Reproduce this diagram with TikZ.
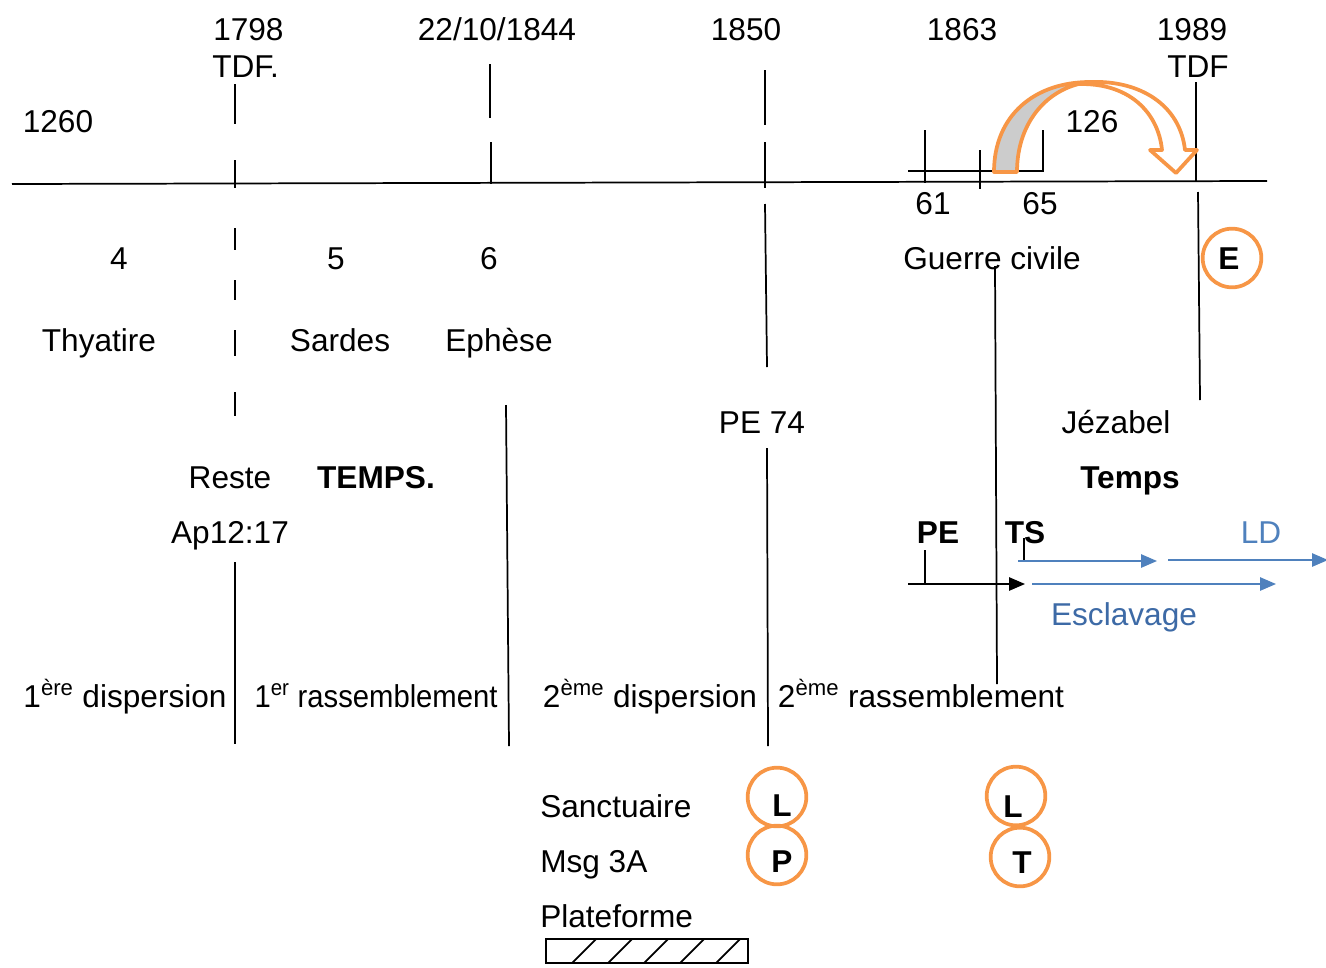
\documentclass[tikz,border=0pt]{standalone}
\usepackage{fontspec}
\setmainfont{Liberation Sans}
\usetikzlibrary{arrows.meta}
\definecolor{orng}{HTML}{F79646}
\definecolor{blu}{HTML}{4F81BD}
\definecolor{blutxt}{HTML}{3D6AA6}
\begin{document}
\begin{tikzpicture}[x=0.75pt,y=-0.75pt,
  txt/.style={font=\fontsize{23.7}{28}\selectfont, inner sep=0pt, text height=17pt, text depth=0pt, anchor=center},
  btxt/.style={txt, font=\fontsize{23.7}{28}\selectfont\bfseries},
  ln/.style={line width=1.3pt},
  ocirc/.style={draw=orng, line width=2.8pt, circle, minimum size=44pt, inner sep=0pt},
  barrow/.style={ln, -{Triangle[length=12pt,width=10pt]}},
  blarrow/.style={draw=blu, line width=1.3pt, -{Triangle[length=12pt,width=10pt]}, blu}
]
\useasboundingbox (0,0) rectangle (1326,967);
% main time line
\coordinate (L0) at (12,184);
\coordinate (L1) at (1267,181);
\draw[ln] (L0) -- (L1);

% dates
\node[txt] (t1260) at (58,121) {1260};
\node[txt,anchor=west] (t1798) at (213,29) {1798};
\node[txt,anchor=west] (tdf1) at (212,66) {TDF.};
\node[txt] (t1844) at (497,29) {22/10/1844};
\node[txt] (t1850) at (746,29) {1850};
\node[txt] (t1863) at (962,29) {1863};
\node[txt] (t1989) at (1192,29) {1989};
\node[txt] (tdf2) at (1198,66) {TDF};

% 1798 dashed line
\foreach \a/\b in {84/124,160/188,228/250,280/300,330/356,392/416}
  \draw[ln] (235,\a) -- (235,\b);
% 1844 line
\draw[ln] (490,64) -- (490,118);
\draw[ln] (491,142) -- (491,184);
% 1850 line
\draw[ln] (765,70) -- (765,125);
\draw[ln] (765,142) -- (765,188);
\draw[ln] (765,204) -- (767,367);
\draw[ln] (767,448) -- (768,746);
% 1989 line
\draw[ln] (1196,82) -- (1196,181);
\draw[ln] (1198,192) -- (1200,400);

% 61-65 bracket
\draw[ln] (908,171) -- (1043,171);
\draw[ln] (925,130) -- (925,183);
\draw[ln] (980,150) -- (980,189);
\draw[ln] (1043,130) -- (1043,172);
\node[txt] (t61) at (933,203) {61};
\node[txt] (t65) at (1040,203) {65};
\node[txt] (t126) at (1092,121) {126};

% curved orange arrow
\draw[draw=orng, line width=2.8pt, fill=white, line join=round]
  (1066,85) .. controls (1125,78) and (1158,110) .. (1162,150)
  -- (1150,150) -- (1176,173) -- (1197,150) -- (1185,150)
  .. controls (1180,105) and (1140,80) .. (1090,82) -- cycle;
\draw[draw=orng, line width=2.8pt, fill=black!20, line join=round]
  (994,172) .. controls (994,115) and (1035,82) .. (1090,82)
  .. controls (1050,86) and (1017,120) .. (1017,172) -- cycle;

% row 4 5 6
\node[txt] (n4) at (119,258) {4};
\node[txt] (n5) at (336,258) {5};
\node[txt] (n6) at (489,258) {6};
\node[txt] (guerre) at (992,258) {Guerre civile};
\draw[ln] (995,266) -- (997,684);
\node[ocirc] (cE) at (1232,258) {};
\node[btxt] (tE) at (1229,258) {E};

\node[txt] (thy) at (99,340) {Thyatire};
\node[txt] (sar) at (340,340) {Sardes};
\node[txt] (eph) at (499,340) {Ephèse};
\draw[ln] (506,405) -- (509,746);

\node[txt] (pe74) at (762,422) {PE 74};
\node[txt] (jez) at (1116,422) {Jézabel};
\node[txt] (reste) at (230,477) {Reste};
\node[btxt] (temps1) at (376,477) {TEMPS.};
\node[btxt] (temps2) at (1130,477) {Temps};
\node[txt] (ap) at (230,532) {Ap12:17};
\draw[ln] (235,562) -- (235,744);

% PE / TS
\node[btxt] (pe) at (938,532) {PE};
\node[btxt] (ts) at (1025,532) {TS};
\node[txt, text=blu] (ld) at (1261,532) {LD};
\coordinate (pe0) at (908,584);
\coordinate (pe1) at (1025,584);
\draw[ln] (925,550) -- (925,584);
\draw[barrow] (pe0) -- (pe1);
\draw[ln] (1024,538) -- (1024,562);
\coordinate (ts0) at (1018,561);
\coordinate (ts1) at (1157,561);
\draw[blarrow] (ts0) -- (ts1);
\coordinate (ld0) at (1168,560);
\coordinate (ld1) at (1328,560);
\draw[blarrow] (ld0) -- (ld1);
\coordinate (es0) at (1032,584);
\coordinate (es1) at (1276,584);
\draw[blarrow] (es0) -- (es1);
\node[txt, text=blutxt] (escl) at (1124,614) {Esclavage};

% bottom row
\node[txt] (d1) at (125,696) {1\textsuperscript{ère} dispersion};
\node[txt] (r1) at (376,696) {\scalebox{0.925}[1]{1\textsuperscript{er} rassemblement}};
\node[txt] (d2) at (650,696) {2\textsuperscript{ème} dispersion};
\node[txt] (r2) at (921,696) {2\textsuperscript{ème} rassemblement};

% legend
\node[txt,anchor=west] (sanct) at (540,806) {Sanctuaire};
\node[txt,anchor=west] (msg) at (540,861) {Msg 3A};
\node[txt,anchor=west] (plat) at (540,916) {Plateforme};
\node[ocirc] (cL1) at (777,797) {};
\node[btxt] (tL1) at (782,805) {L};
\node[ocirc] (cP) at (777,855) {};
\node[btxt] (tP) at (782,861) {P};
\node[ocirc] (cL2) at (1016,796) {};
\node[btxt] (tL2) at (1013,806) {L};
\node[ocirc] (cT) at (1020,857) {};
\node[btxt] (tT) at (1022,862) {T};

% hatched platform
\draw[ln] (546,939) rectangle (748,963);
\foreach \i in {0,...,4}
  \draw[ln] ({572+\i*36},963) -- ({596+\i*36},939);
\end{tikzpicture}
\end{document}
